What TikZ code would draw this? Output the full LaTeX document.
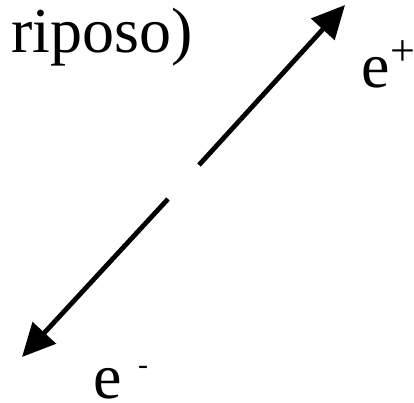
\documentclass[tikz,border=0pt]{standalone}
\usepackage{fontspec}
\setmainfont{Liberation Serif}
\usepackage{tikz}
\usetikzlibrary{arrows.meta}
\tikzset{
  track/.style={line width=4.8pt, -{Triangle[length=33pt, width=31pt]}},
  big/.style={font=\rmfamily\fontsize{64}{72}\selectfont, inner sep=0pt}
}
\newcommand{\upplus}{\raisebox{22pt}{\fontsize{44}{44}\selectfont +}}
\newcommand{\upminus}{\raisebox{24pt}{\fontsize{30}{30}\selectfont -}}

\begin{document}
\begin{tikzpicture}[x=1pt,y=-1pt]
  \useasboundingbox (0,0) rectangle (414,402);

  \node[big, anchor=base west] (rest) at (11,52) {riposo)};
  \node[big, anchor=base west] (pos) at (361.5,87) {e\upplus};
  \node[big, anchor=base west] (neg) at (93.5,398) {e \upminus};

  \coordinate (gapup) at (199,165);
  \coordinate (tipup) at (345,5);
  \coordinate (gapdown) at (168,199);
  \coordinate (tipdown) at (22,357);

  \draw[track] (gapup) -- (tipup);
  \draw[track] (gapdown) -- (tipdown);
\end{tikzpicture}
\end{document}
